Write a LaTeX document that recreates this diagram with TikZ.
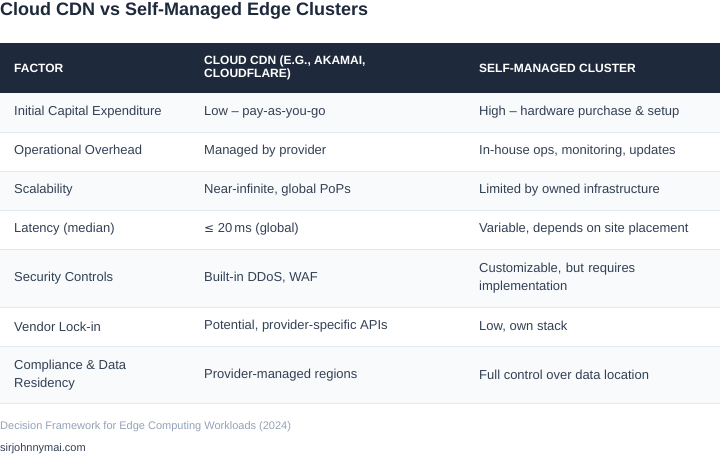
\documentclass[tikz,border=0pt]{standalone}
\usepackage{fontspec}
\setmainfont{Liberation Sans}
\begin{document}
\begin{tikzpicture}[x=1pt,y=-1pt,
  cell/.style={anchor=west,font=\fontsize{13}{16}\selectfont,text=txt,align=left,inner sep=0pt},
  hd/.style={anchor=west,font=\fontsize{12}{12.5}\selectfont\bfseries,text=white,align=left,inner sep=0pt}]
\definecolor{navy}{HTML}{1E293B}
\definecolor{txt}{HTML}{334155}
\definecolor{alt}{HTML}{F8FAFC}
\definecolor{sep}{HTML}{E2E8F0}
\definecolor{foot}{HTML}{94A3B8}
\useasboundingbox[fill=white] (0,0) rectangle (720,456);
\node[anchor=west,inner sep=0pt,font=\fontsize{18}{20}\selectfont\bfseries,text=navy] (title) at (0,11) {Cloud CDN vs Self-Managed Edge Clusters};
\fill[navy] (0,43) rectangle (720,93);
\foreach \a/\b in {93/132,171/210,249/307,346/403} \fill[alt] (0,\a) rectangle (720,\b);
\foreach \y in {132,171,210,249,307,346,403} \draw[sep] (0,\y) -- (720,\y);
\node[hd] (h1) at (14,68) {FACTOR};
\node[hd] (h2) at (204,68) {CLOUD CDN (E.G., AKAMAI,\\CLOUDFLARE)};
\node[hd] (h3) at (479,68) {SELF-MANAGED CLUSTER};
\node[cell] (a1) at (14,112) {Initial Capital Expenditure};
\node[cell] (b1) at (204,112) {Low – pay-as-you-go};
\node[cell] (c1) at (479,112) {High – hardware purchase \& setup};
\node[cell] (a2) at (14,151.5) {Operational Overhead};
\node[cell] (b2) at (204,151.5) {Managed by provider};
\node[cell] (c2) at (479,151.5) {In-house ops, monitoring, updates};
\node[cell] (a3) at (14,190.5) {Scalability};
\node[cell] (b3) at (204,190.5) {Near-infinite, global PoPs};
\node[cell] (c3) at (479,190.5) {Limited by owned infrastructure};
\node[cell] (a4) at (14,229.5) {Latency (median)};
\node[cell] (b4) at (204,229.5) {\fontspec{DejaVu Sans}\fontsize{12}{16}\selectfont≤\fontspec{Liberation Sans}\fontsize{13}{16}\selectfont{} 20\,ms (global)};
\node[cell] (c4) at (479,229.5) {Variable, depends on site placement};
\node[cell] (a5) at (14,278) {Security Controls};
\node[cell] (b5) at (204,278) {Built-in DDoS, WAF};
\node[cell,text width=220pt,font=\fontsize{13}{18}\selectfont] (c5) at (479,278) {Customizable, but requires\\implementation};
\node[cell] (a6) at (14,326.5) {Vendor Lock-in};
\node[cell] (b6) at (204,326.5) {Potential, provider-specific APIs};
\node[cell] (c6) at (479,326.5) {Low, own stack};
\node[cell,font=\fontsize{13}{18}\selectfont] (a7) at (14,375) {Compliance \& Data\\Residency};
\node[cell] (b7) at (204,375) {Provider-managed regions};
\node[cell] (c7) at (479,375) {Full control over data location};
\node[anchor=west,inner sep=0pt,font=\fontsize{11}{12}\selectfont,text=foot] (src) at (0,427) {Decision Framework for Edge Computing Workloads (2024)};
\node[anchor=west,inner sep=0pt,font=\fontsize{11}{12}\selectfont,text=txt] (site) at (0,449) {sirjohnnymai.com};
\end{tikzpicture}
\end{document}
